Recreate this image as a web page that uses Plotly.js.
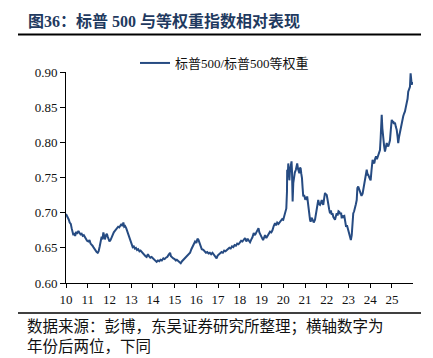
<!DOCTYPE html>
<html><head><meta charset="utf-8">
<script src="https://cdn.plot.ly/plotly-3.0.1.min.js"></script>
<style>html,body{margin:0;padding:0;background:#fff}#chart{width:433px;height:358px}</style>
</head><body><div id="chart"></div>
<script>
// Time (fractional year, two-digit labels on the axis) and ratio S&P500 / S&P500 Equal Weight
const years = [
10.00,10.04,10.08,10.13,10.17,10.22,10.26,10.30,10.34,10.38,10.42,10.47,10.51,10.57,10.62,10.67,10.72,10.77,10.82,10.87,10.92,10.97,
11.03,11.08,11.13,11.18,11.22,11.26,11.31,11.36,11.41,11.46,11.50,11.55,11.60,11.64,11.68,11.72,11.75,11.79,11.84,11.88,11.92,11.96,
12.00,12.05,12.10,12.15,12.20,12.25,12.30,12.35,12.40,12.45,12.50,12.55,12.60,12.64,12.68,12.72,12.77,12.82,12.87,12.92,12.97,
13.02,13.07,13.12,13.17,13.22,13.27,13.32,13.38,13.43,13.48,13.54,13.60,13.66,13.71,13.77,13.82,13.88,13.94,
14.00,14.06,14.12,14.17,14.23,14.29,14.35,14.41,14.48,14.54,14.60,14.66,14.72,14.79,14.83,14.88,14.94,
15.00,15.05,15.10,15.16,15.22,15.28,15.34,15.40,15.47,15.53,15.59,15.65,15.71,15.77,15.83,15.88,15.94,
16.00,16.05,16.10,16.15,16.20,16.25,16.32,16.38,16.44,16.50,16.56,16.62,16.68,16.74,16.80,16.86,16.93,16.98,
17.04,17.10,17.16,17.22,17.28,17.34,17.40,17.46,17.52,17.58,17.64,17.70,17.76,17.82,17.88,17.94,
18.00,18.06,18.12,18.18,18.24,18.30,18.36,18.42,18.47,18.53,18.58,18.64,18.70,18.76,18.82,18.86,18.90,18.95,
19.00,19.07,19.12,19.16,19.22,19.28,19.34,19.39,19.45,19.50,19.56,19.62,19.67,19.72,19.78,19.84,19.90,19.95,
20.00,20.05,20.10,20.14,20.17,20.18,20.21,20.23,20.26,20.28,20.31,20.34,20.38,20.40,20.43,20.46,20.49,20.53,20.58,20.62,20.64,20.68,20.71,20.74,20.77,20.80,20.83,20.86,20.89,20.92,20.96,
21.00,21.04,21.07,21.10,21.14,21.17,21.20,21.23,21.26,21.30,21.35,21.40,21.46,21.50,21.54,21.58,21.61,21.65,21.69,21.73,21.77,21.81,21.84,21.88,21.92,21.96,
22.00,22.04,22.07,22.11,22.15,22.19,22.23,22.27,22.30,22.34,22.38,22.42,22.46,22.50,22.54,22.58,22.62,22.66,22.69,22.73,22.77,22.81,22.85,22.89,22.93,22.97,22.99,
23.03,23.07,23.11,23.15,23.18,23.22,23.26,23.30,23.34,23.38,23.41,23.45,23.50,23.56,23.60,23.65,23.70,23.76,23.80,23.84,23.88,23.91,23.96,
24.02,24.06,24.11,24.15,24.19,24.23,24.27,24.31,24.36,24.40,24.45,24.48,24.51,24.53,24.56,24.60,24.64,24.68,24.72,24.76,24.80,24.83,24.87,24.91,24.95,24.99,
25.03,25.06,25.10,25.14,25.18,25.22,25.26,25.29,25.33,25.37,25.41,25.45,25.49,25.52,25.56,25.60,25.64,25.68,25.72,25.75,25.79,25.83,25.86,25.89,25.91,25.95
];
const ratio = [
.698,.696,.693,.690,.686,.684,.678,.672,.668,.671,.667,.673,.670,.674,.671,.669,.670,.667,.668,.665,.663,.660,
.659,.661,.656,.655,.653,.651,.648,.646,.644,.643,.645,.652,.660,.666,.662,.672,.668,.662,.668,.670,.666,.662,
.659,.661,.665,.668,.672,.674,.676,.678,.680,.679,.682,.684,.681,.686,.680,.681,.678,.674,.670,.665,.660,
.656,.651,.652,.649,.650,.647,.648,.645,.646,.644,.642,.640,.638,.637,.641,.638,.636,.637,
.635,.633,.631,.630,.632,.631,.633,.632,.635,.634,.636,.637,.640,.643,.638,.636,.635,
.634,.632,.633,.631,.629,.628,.631,.633,.635,.637,.640,.641,.643,.648,.652,.656,.659,
.657,.663,.661,.656,.650,.648,.647,.645,.643,.644,.642,.643,.641,.643,.640,.638,.635,.639,
.641,.642,.644,.643,.646,.645,.647,.648,.650,.649,.652,.651,.654,.653,.656,.655,
.658,.660,.659,.662,.664,.659,.663,.660,.658,.662,.665,.671,.668,.672,.676,.678,.672,.668,
.664,.661,.665,.668,.664,.667,.670,.673,.672,.675,.681,.685,.682,.686,.684,.686,.688,.691,
.690,.696,.700,.706,.730,.761,.755,.770,.750,.746,.760,.765,.773,.760,.716,.742,.751,.757,.761,.766,.770,.762,.758,.756,.764,.763,.755,.749,.735,.723,.725,
.720,.721,.718,.723,.712,.700,.694,.690,.687,.693,.690,.686,.690,.698,.706,.712,.718,.712,.711,.714,.718,.713,.711,.720,.728,.726,
.725,.718,.709,.705,.699,.703,.697,.699,.694,.692,.690,.695,.699,.696,.702,.701,.698,.700,.692,.696,.694,.695,.688,.680,.682,.677,.675,
.670,.664,.661,.668,.685,.699,.702,.706,.712,.718,.735,.737,.733,.730,.724,.727,.735,.744,.752,.761,.754,.754,.750,
.746,.760,.775,.772,.770,.777,.780,.776,.781,.785,.789,.805,.825,.839,.820,.803,.795,.787,.792,.799,.796,.794,.798,.803,.818,.832,
.829,.830,.826,.828,.822,.818,.808,.799,.808,.815,.822,.830,.834,.837,.841,.844,.850,.856,.862,.872,.875,.879,.898,.888,.882,.886
];
const xTicks = [10,11,12,13,14,15,16,17,18,19,20,21,22,23,24,25];
const yTicks = [0.60,0.65,0.70,0.75,0.80,0.85,0.90];
const seriesName = '标普500/标普500等权重';
const chartTitle = '图36：标普 500 与等权重指数相对表现';
const sourceLines = ['数据来源：彭博，东吴证券研究所整理；横轴数字为', '年份后两位，下同'];

const serif = '"Liberation Serif", "Noto Sans CJK SC", serif';
const W = 433, H = 358, L = 66, R = 20, T = 72, B = 75;
const pw = W - L - R, ph = H - T - B;
const px = v => (v - L) / pw;          // pixel -> paper x
const py = v => (H - B - v) / ph;      // pixel -> paper y

const trace = {
  x: years, y: ratio, type: 'scatter', mode: 'lines', name: seriesName,
  line: {color: '#264b82', width: 2}, showlegend: true
};
const layout = {
  width: W, height: H,
  margin: {l: L, r: R, t: T, b: B, pad: 0},
  paper_bgcolor: '#fff', plot_bgcolor: '#fff',
  font: {family: serif, color: '#111', size: 13},
  title: {
    text: chartTitle, xref: 'container', yref: 'container',
    x: 28 / W, xanchor: 'left', y: 1 - 21 / H, yanchor: 'middle',
    font: {family: '"Liberation Serif", "Noto Sans CJK SC", serif', size: 16, color: '#1f3a60', weight: 'bold'}
  },
  xaxis: {
    range: [10, 25.97], tickmode: 'array', tickvals: xTicks, ticktext: xTicks.map(String),
    showgrid: false, zeroline: false, showline: true, linecolor: '#000', linewidth: 1,
    ticks: 'outside', ticklen: 4, tickcolor: '#000', tickwidth: 1,
    tickfont: {family: serif, size: 13, color: '#111'}, fixedrange: true
  },
  yaxis: {
    range: [0.60, 0.90], tickmode: 'array', tickvals: yTicks, ticktext: yTicks.map(v => v.toFixed(2)),
    showgrid: false, zeroline: false, showline: true, linecolor: '#000', linewidth: 1,
    ticks: 'outside', ticklen: 5, tickcolor: '#000', tickwidth: 1,
    tickfont: {family: serif, size: 13, color: '#111'}, fixedrange: true
  },
  legend: {
    x: px(135), y: py(63), xanchor: 'left', yanchor: 'middle', orientation: 'h',
    bgcolor: 'rgba(0,0,0,0)', font: {family: serif, size: 13, color: '#111'}, itemwidth: 30
  },
  shapes: [
    {type: 'line', xref: 'paper', yref: 'paper', x0: px(18), x1: px(421), y0: py(34.5), y1: py(34.5), line: {color: '#000', width: 2}},
    {type: 'line', xref: 'paper', yref: 'paper', x0: px(18), x1: px(421), y0: py(313), y1: py(313), line: {color: '#000', width: 1.5}}
  ],
  annotations: [
    {text: sourceLines.join('<br>'), xref: 'paper', yref: 'paper', x: px(26), y: py(357), xanchor: 'left', yanchor: 'bottom',
     align: 'left', showarrow: false, borderpad: 0,
     font: {family: '"Noto Sans CJK SC", serif', size: 15.5, color: '#111'}}
  ]
};
Plotly.newPlot('chart', [trace], layout, {displayModeBar: false, staticPlot: true});
</script></body></html>
